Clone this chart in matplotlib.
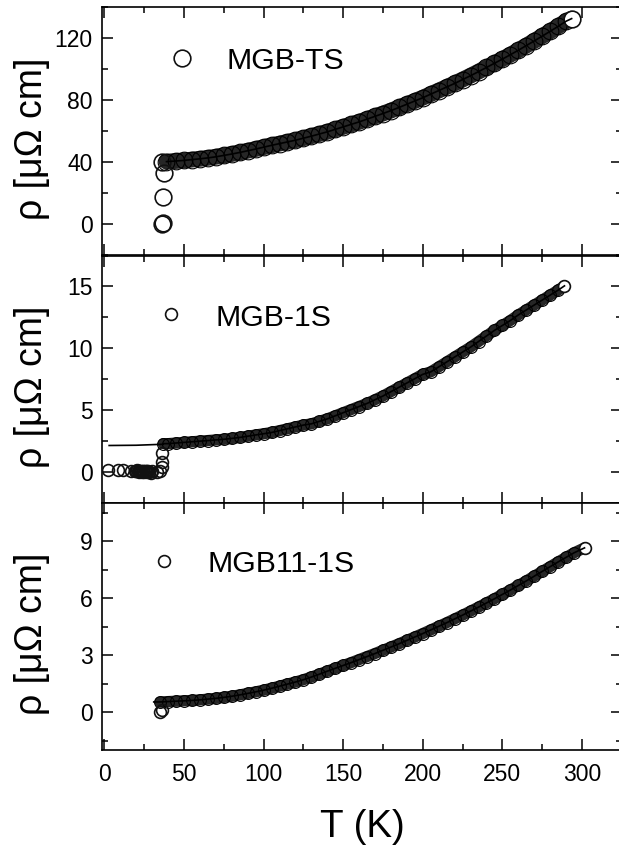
import matplotlib
matplotlib.use("Agg")
import matplotlib.pyplot as plt
from matplotlib.ticker import MultipleLocator

plt.rcParams["font.family"] = ["Liberation Sans", "DejaVu Sans"]

# ---- MGB-TS ----
ts_sc_T = [36.0, 36.6, 37.0, 37.4, 36.2]
ts_sc_rho = [0.3, 0.9, 17.5, 33.2, 40.5]
ts_T = [39, 45, 50, 55, 60, 65, 70, 75, 80, 85, 90, 95, 100, 105, 110, 115,
        120, 125, 130, 135, 140, 145, 150, 155, 160, 165, 170, 175, 180, 185,
        190, 195, 200, 205, 210, 215, 220, 225, 230, 235, 240, 245, 250, 255,
        260, 265, 270, 275, 280, 285, 290, 293.5]
ts_rho = [40.5, 40.9, 41.3, 41.8, 42.3, 42.9, 43.6, 44.5, 45.4, 46.4, 47.5,
          48.6, 49.8, 51.0, 52.1, 53.2, 54.3, 55.6, 56.9, 58.3, 59.7, 61.3,
          62.9, 64.5, 66.1, 67.9, 69.7, 71.5, 73.4, 75.4, 77.5, 79.6, 81.7,
          84.0, 86.3, 88.6, 90.9, 93.4, 95.9, 98.5, 101.2, 103.9, 106.6, 109.4,
          112.3, 115.3, 118.3, 121.4, 124.5, 127.7, 131.0, 132.7]

# ---- MGB-1S ----
s1_sc_T = [2.5, 8.5, 12.0, 17.0, 19.0, 20.0, 20.5, 21.0, 21.5, 22.0, 22.5,
           23.0, 23.5, 24.0, 24.5, 25.0, 25.5, 26.0, 26.5, 27.0, 27.5, 28.0,
           29.0, 30.0, 33.0, 35.0, 36.0, 36.2, 36.4]
s1_sc_rho = [0.2, 0.15, 0.2, 0.1, 0.05, 0.1, 0.15, 0.05, 0.1, 0.0, 0.1,
             0.05, 0.0, 0.1, 0.05, 0.0, 0.1, 0.05, 0.0, 0.05, 0.1, 0.0,
             -0.05, 0.05, 0.0, 0.1, 0.4, 0.85, 1.55]
s1_T = [37, 40, 45, 50, 55, 60, 65, 70, 75, 80, 85, 90, 95, 100, 105, 110,
        115, 120, 125, 130, 135, 140, 145, 150, 155, 160, 165, 170, 175, 180,
        185, 190, 195, 200, 205, 210, 215, 220, 225, 230, 235, 240, 245, 250,
        255, 260, 265, 270, 275, 280, 285, 289]
s1_rho = [2.3, 2.3, 2.35, 2.4, 2.45, 2.5, 2.55, 2.6, 2.65, 2.72, 2.8, 2.9,
          3.0, 3.1, 3.2, 3.35, 3.5, 3.65, 3.8, 3.9, 4.1, 4.3, 4.55, 4.8, 5.05,
          5.3, 5.55, 5.85, 6.15, 6.5, 6.85, 7.2, 7.55, 7.9, 8.1, 8.5, 8.9, 9.3,
          9.7, 10.1, 10.55, 11.0, 11.45, 11.85, 12.25, 12.7, 13.1, 13.5, 13.9,
          14.3, 14.7, 15.05]
s1_fit_T = [3, 20, 37]
s1_fit_rho = [2.15, 2.17, 2.25]

# ---- MGB11-1S ----
s11_sc_T = [35.0, 36.5]
s11_sc_rho = [0.0, 0.1]
s11_T = [35, 40, 45, 50, 55, 60, 65, 70, 75, 80, 85, 90, 95, 100, 105, 110,
         115, 120, 125, 130, 135, 140, 145, 150, 155, 160, 165, 170, 175, 180,
         185, 190, 195, 200, 205, 210, 215, 220, 225, 230, 235, 240, 245, 250,
         255, 260, 265, 270, 275, 280, 285, 290, 295, 301.6]
s11_rho = [0.53, 0.55, 0.57, 0.59, 0.61, 0.64, 0.68, 0.72, 0.77, 0.83, 0.90,
           0.98, 1.06, 1.15, 1.25, 1.36, 1.47, 1.58, 1.70, 1.84, 1.99, 2.15,
           2.30, 2.45, 2.60, 2.76, 2.92, 3.08, 3.25, 3.42, 3.59, 3.77, 3.95,
           4.13, 4.32, 4.51, 4.70, 4.90, 5.10, 5.31, 5.52, 5.74, 5.96, 6.19,
           6.42, 6.66, 6.90, 7.15, 7.40, 7.65, 7.90, 8.14, 8.38, 8.64]
s11_fit_T = [31]
s11_fit_rho = [0.53]

panels = [
    dict(name="MGB-TS", sc=(ts_sc_T, ts_sc_rho), band=(ts_T, ts_rho),
         fit=([], []), ylim=(-20, 140), major=40, minor=20, ms=12,
         rect=[0.1653, 0.6984, 0.8392, 0.2930],
         key_marker=(0.154, 0.7945), key_text=(0.2394, 0.7514)),
    dict(name="MGB-1S", sc=(s1_sc_T, s1_sc_rho), band=(s1_T, s1_rho),
         fit=(s1_fit_T, s1_fit_rho), ylim=(-2.5, 17.5), major=5, minor=2.5,
         ms=8.5, rect=[0.1653, 0.4061, 0.8392, 0.2922],
         key_marker=(0.1322, 0.7624), key_text=(0.2188, 0.715)),
    dict(name="MGB11-1S", sc=(s11_sc_T, s11_sc_rho), band=(s11_T, s11_rho),
         fit=(s11_fit_T, s11_fit_rho), ylim=(-2, 11), major=3, minor=1.5,
         ms=8.5, rect=[0.1653, 0.1145, 0.8392, 0.2916],
         key_marker=(0.1187, 0.765), key_text=(0.2034, 0.7219)),
]


def draw_panel(fig, p, show_xlabels):
    ax = fig.add_axes(p["rect"])
    band_T, band_rho = p["band"]
    ms = p["ms"]

    # dense measured points: dark band with overlapping open circles
    ax.plot(band_T, band_rho, "-", color="#262626", lw=ms * 0.95,
            solid_capstyle="round", zorder=2)
    ax.plot(band_T[:-1], band_rho[:-1], "o", mfc="none", mec="black",
            mew=0.8, ms=ms, zorder=3)
    # last point sits at the end of the band as a clear open circle
    ax.plot(band_T[-1:], band_rho[-1:], "o", mfc="white", mec="#111111",
            mew=1.2, ms=ms, zorder=3)
    ax.plot(*p["sc"], "o", mfc="none", mec="#111111", mew=1.2, ms=ms, zorder=3)

    # fit curve
    fit_T = list(p["fit"][0]) + list(band_T)
    fit_rho = list(p["fit"][1]) + list(band_rho)
    ax.plot(fit_T, fit_rho, "-", color="black", lw=1.2, zorder=4)

    # sample key
    mx, my = p["key_marker"]
    ax.plot([mx], [my], "o", mfc="none", mec="#111111", mew=1.2, ms=ms,
            transform=ax.transAxes, clip_on=False)
    tx, ty = p["key_text"]
    ax.text(tx, ty, p["name"], transform=ax.transAxes, fontsize=21.8,
            va="baseline", ha="left")

    ax.set_xlim(-1.3, 325)
    ax.set_ylim(*p["ylim"])
    ax.xaxis.set_major_locator(MultipleLocator(50))
    ax.xaxis.set_minor_locator(MultipleLocator(25))
    ax.yaxis.set_major_locator(MultipleLocator(p["major"]))
    ax.yaxis.set_minor_locator(MultipleLocator(p["minor"]))
    ax.tick_params(which="both", direction="in", top=True, right=True,
                   width=1.1, labelsize=16.5)
    ax.tick_params(which="major", length=8, pad=7)
    ax.tick_params(which="minor", length=4.3)
    ax.tick_params(axis="x", which="major", pad=9)
    if not show_xlabels:
        ax.tick_params(axis="x", labelbottom=False)
    for s in ax.spines.values():
        s.set_linewidth(1.2)

    ax.set_ylabel("ρ [μΩ cm]", fontsize=27)
    ax.yaxis.set_label_coords(-0.1, 0.47)
    return ax


def main():
    fig = plt.figure(figsize=(6.19, 8.47), dpi=100)
    for i, p in enumerate(panels):
        ax = draw_panel(fig, p, i == len(panels) - 1)
    ax.set_xlabel("T (K)", fontsize=27.8, labelpad=17)
    fig.savefig("out.png", dpi=100)
    plt.close(fig)


if __name__ == "__main__":
    main()
